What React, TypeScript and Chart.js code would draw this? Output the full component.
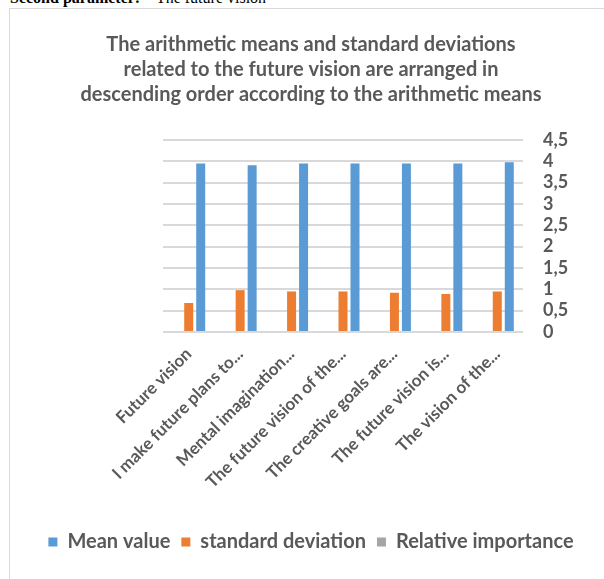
import React, { useEffect, useRef } from "react";
import { Chart, registerables } from "chart.js";

Chart.register(...registerables);

// Survey items (left to right)
const categories = [
  "Future vision",
  "I make future plans to...",
  "Mental imagination...",
  "The future vision of the...",
  "The creative goals are...",
  "The future vision is...",
  "The vision of the...",
];

const meanValues = [3.95, 3.91, 3.95, 3.95, 3.95, 3.95, 3.98];
const stdDeviations = [0.68, 0.98, 0.95, 0.95, 0.92, 0.89, 0.95];
const relativeImportance: (number | null)[] = [null, null, null, null, null, null, null];

const yTicks = [0, 0.5, 1, 1.5, 2, 2.5, 3, 3.5, 4, 4.5];

const titleLines = [
  "The arithmetic means and standard deviations",
  "related to the future vision are arranged in",
  "descending order according to the arithmetic means",
];

const TEXT = "#595959";
const FONT = "Lato, 'Open Sans', sans-serif";

export default function App() {
  const canvasRef = useRef<HTMLCanvasElement | null>(null);

  useEffect(() => {
    if (!canvasRef.current) return;
    const chart = new Chart(canvasRef.current, {
      type: "bar",
      data: {
        labels: categories,
        datasets: [
          { label: "Relative importance", data: relativeImportance, backgroundColor: "#A5A5A5", xAxisID: "x", yAxisID: "y" },
          { label: "standard deviation", data: stdDeviations, backgroundColor: "#ED7D31", xAxisID: "x", yAxisID: "y" },
          { label: "Mean value", data: meanValues, backgroundColor: "#5B9BD5", xAxisID: "x", yAxisID: "y" },
        ],
      },
      options: {
        animation: false,
        responsive: false,
        maintainAspectRatio: false,
        layout: { padding: { left: 0, right: 0, bottom: 28 } },
        datasets: {
          bar: { categoryPercentage: 0.7, barPercentage: 0.75 },
        },
        plugins: {
          title: {
            display: true,
            text: titleLines,
            color: TEXT,
            font: { family: FONT, size: 20, weight: "bold", lineHeight: 25 / 20 },
            padding: { top: 22, bottom: 33 },
          },
          legend: {
            position: "bottom",
            reverse: true,
            labels: {
              color: TEXT,
              font: { family: FONT, size: 20, weight: "bold" },
              boxWidth: 9,
              boxHeight: 9,
              padding: 11,
            },
          },
          tooltip: { enabled: false },
        },
        scales: {
          x: {
            grid: { display: false, drawTicks: false },
            border: { display: false },
            afterFit: (s) => {
              s.height = 189;
            },
            ticks: {
              color: TEXT,
              font: { family: FONT, size: 17, weight: "bold" },
              minRotation: 45,
              maxRotation: 45,
              autoSkip: false,
              padding: 12,
            },
          },
          y: {
            position: "right",
            min: 0,
            max: 4.5,
            afterBuildTicks: (axis) => {
              axis.ticks = yTicks.map((v) => ({ value: v }));
            },
            afterFit: (s) => {
              s.width = 89;
            },
            grid: { color: "#d9d9d9", lineWidth: 2, drawTicks: false },
            border: { display: false },
            ticks: {
              color: TEXT,
              font: { family: FONT, size: 18, weight: "bold" },
              padding: 20,
              autoSkip: false,
              callback: (v) => String(v).replace(".", ","),
            },
          },
          // empty left gutter that keeps the plot clear of the frame
          gutter: {
            type: "linear",
            position: "left",
            min: 0,
            max: 1,
            grid: { display: false },
            border: { display: false },
            ticks: { display: false },
            afterFit: (s) => {
              s.width = 153;
            },
          },
        },
      },
    });
    return () => chart.destroy();
  }, []);

  return (
    <div
      style={{
        position: "fixed",
        left: 0,
        top: 0,
        width: 604,
        height: 579,
        overflow: "hidden",
        background: "#ffffff",
      }}
    >
      <div
        style={{
          position: "absolute",
          left: 10,
          top: -11,
          fontFamily: "'Liberation Serif', 'Times New Roman', serif",
          fontSize: 16,
          lineHeight: "18px",
          color: "#000",
          whiteSpace: "nowrap",
        }}
      >
        <b>Second parameter:</b>
        {"\u00a0\u00a0\u00a0 "}The future vision
      </div>
      <div
        style={{
          position: "absolute",
          left: 9,
          top: 8,
          width: 700,
          height: 700,
          border: "1.5px solid #d9d9d9",
          boxSizing: "border-box",
        }}
      />
      <div style={{ position: "absolute", left: 10, top: 10, width: 602, height: 580 }}>
        <canvas ref={canvasRef} width={602} height={580} />
      </div>
    </div>
  );
}
